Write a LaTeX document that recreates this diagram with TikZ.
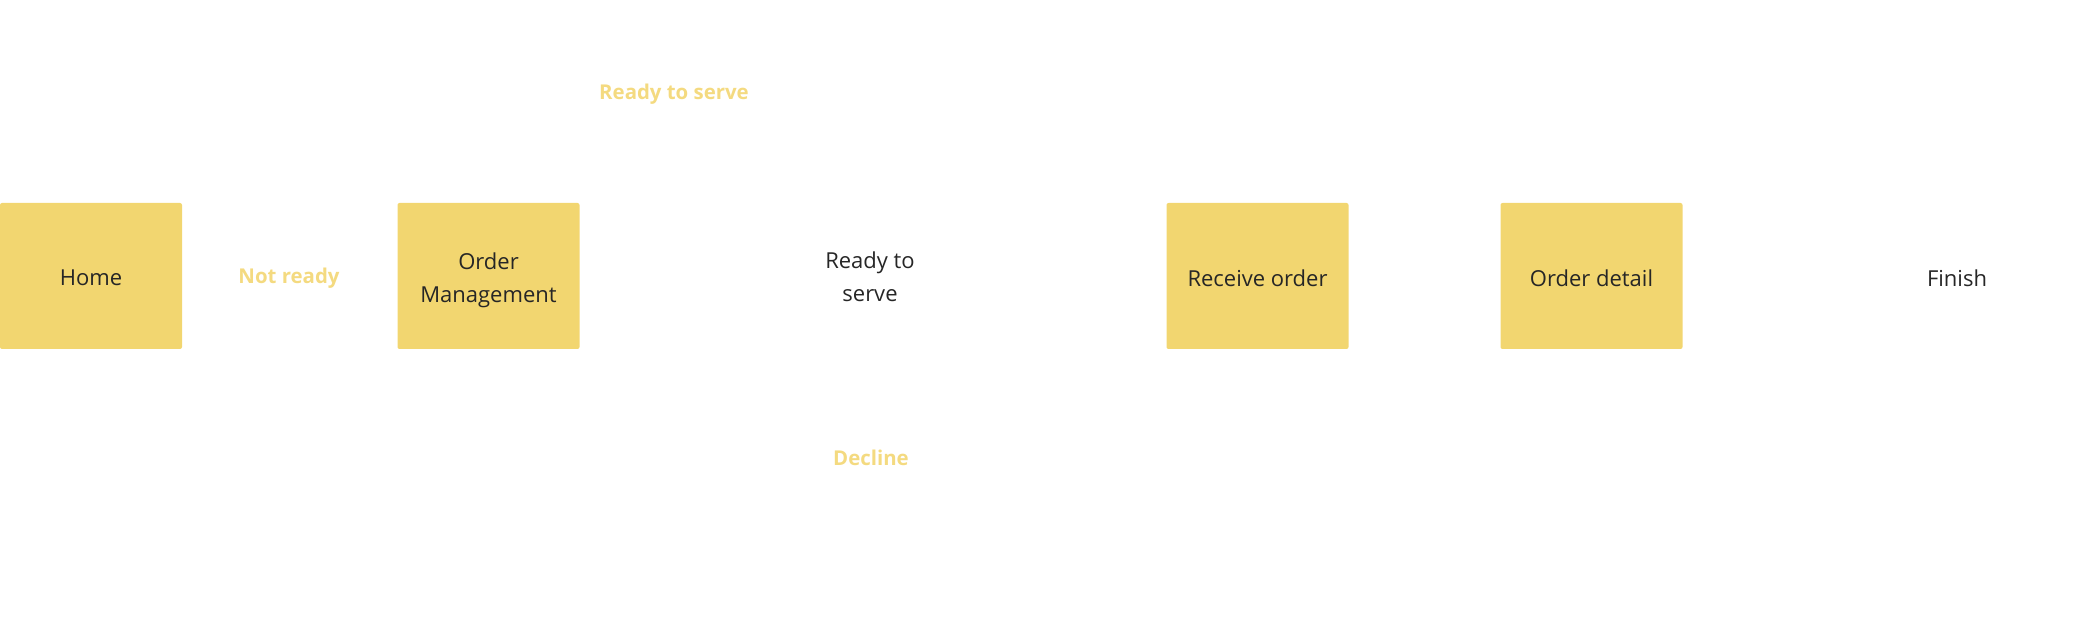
\documentclass[tikz,border=0pt]{standalone}
\usepackage{fontspec}
\setmainfont{Open Sans}
\definecolor{boxgold}{HTML}{F2D670}
\definecolor{labgold}{HTML}{F4DA80}
\definecolor{ink}{HTML}{262626}
\begin{document}
\begin{tikzpicture}[x=0.5pt,y=-0.5pt,
  stepbox/.style={fill=boxgold, rounded corners=1pt, minimum width=91pt, minimum height=73pt, inner sep=0pt},
  plain/.style={align=center, text=ink, font=\fontsize{11}{16.5}\selectfont},
  edgelab/.style={text=labgold, font=\fontsize{10.2}{13}\selectfont\bfseries}]
\useasboundingbox (0,0) rectangle (2080,640);
\node[stepbox] (home) at (91,276) {};
\node[stepbox] (om) at (488.5,276) {};
\node[stepbox] (ro) at (1257.5,276) {};
\node[stepbox] (od) at (1591.5,276) {};
\node[plain] (homet) at (91,278) {Home};
\node[plain] (omt) at (488.5,280) {Order\\Management};
\node[plain] (rts) at (870,277) {Ready to\\serve};
\node[plain] (rot) at (1257.5,278) {Receive order};
\node[plain] (odt) at (1591.5,278) {Order detail};
\node[plain] (fin) at (1957,278) {Finish};
\node[edgelab] (l1) at (289,278.5) {Not ready};
\node[edgelab] (l2) at (674,94) {Ready to serve};
\node[edgelab] (l3) at (871,458) {Decline};
\end{tikzpicture}
\end{document}
